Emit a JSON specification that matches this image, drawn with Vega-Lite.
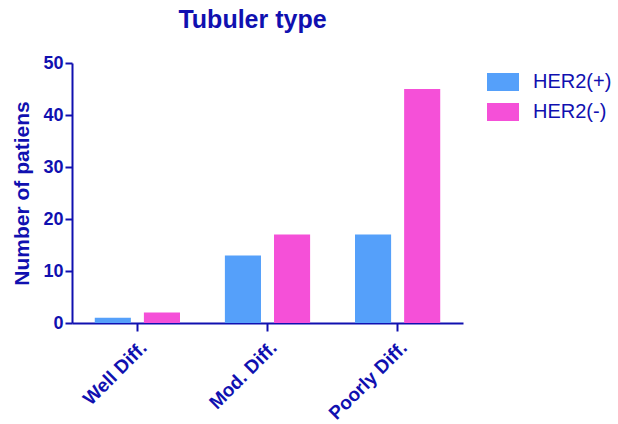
{
  "$schema": "https://vega.github.io/schema/vega-lite/v6.json",
  "width": 391,
  "height": 260,
  "autosize": {"type": "none"},
  "padding": {"left": 72, "top": 63, "right": 155, "bottom": 101},
  "background": "white",
  "title": {
    "text": "Tubuler type",
    "fontSize": 25,
    "font": "Liberation Sans",
    "fontWeight": "bold",
    "color": "#1010B0",
    "anchor": "middle",
    "dx": -15,
    "offset": 21
  },
  "data": {
    "values": [
      {"type": "Well Diff.", "group": "HER2(+)", "count": 1},
      {"type": "Well Diff.", "group": "HER2(-)", "count": 2},
      {"type": "Mod. Diff.", "group": "HER2(+)", "count": 13},
      {"type": "Mod. Diff.", "group": "HER2(-)", "count": 17},
      {"type": "Poorly Diff.", "group": "HER2(+)", "count": 17},
      {"type": "Poorly Diff.", "group": "HER2(-)", "count": 45}
    ]
  },
  "mark": {"type": "bar"},
  "encoding": {
    "x": {
      "field": "type",
      "type": "nominal",
      "sort": ["Well Diff.", "Mod. Diff.", "Poorly Diff."],
      "scale": {"paddingInner": 0.345, "paddingOuter": 0.175},
      "axis": {
        "title": null,
        "labelAngle": -45,
        "labelFont": "Liberation Sans",
        "labelFontSize": 19,
        "labelFontWeight": "bold",
        "labelColor": "#1010B0",
        "domainColor": "#1010B0",
        "domainWidth": 2,
        "tickColor": "#1010B0",
        "tickWidth": 2,
        "tickSize": 8,
        "labelPadding": 7
      }
    },
    "xOffset": {
      "field": "group",
      "type": "nominal",
      "sort": ["HER2(+)", "HER2(-)"],
      "scale": {"paddingInner": 0.265, "paddingOuter": 0}
    },
    "y": {
      "field": "count",
      "type": "quantitative",
      "scale": {"domain": [0, 50]},
      "axis": {
        "title": "Number of patiens",
        "titleFont": "Liberation Sans",
        "titleFontSize": 21,
        "titleFontWeight": "bold",
        "titleColor": "#1010B0",
        "titlePadding": 10,
        "values": [0, 10, 20, 30, 40, 50],
        "grid": false,
        "labelFont": "Liberation Sans",
        "labelFontSize": 18,
        "labelFontWeight": "bold",
        "labelColor": "#1010B0",
        "domainColor": "#1010B0",
        "domainWidth": 2,
        "tickColor": "#1010B0",
        "tickWidth": 2,
        "tickSize": 7,
        "labelPadding": 2
      }
    },
    "color": {
      "field": "group",
      "type": "nominal",
      "sort": ["HER2(+)", "HER2(-)"],
      "scale": {"domain": ["HER2(+)", "HER2(-)"], "range": ["#55A0FA", "#F550D8"]},
      "legend": {
        "title": null,
        "orient": "none",
        "legendX": 415,
        "legendY": 3,
        "padding": 0,
        "symbolType": "M-1,-0.5625L1,-0.5625L1,0.5625L-1,0.5625Z",
        "symbolSize": 1024,
        "symbolStrokeWidth": 0,
        "symbolOpacity": 1,
        "labelFont": "Liberation Sans",
        "labelFontSize": 20,
        "labelColor": "#1010B0",
        "labelOffset": 14,
        "rowPadding": 4
      }
    }
  },
  "config": {
    "view": {"stroke": null}
  }
}
